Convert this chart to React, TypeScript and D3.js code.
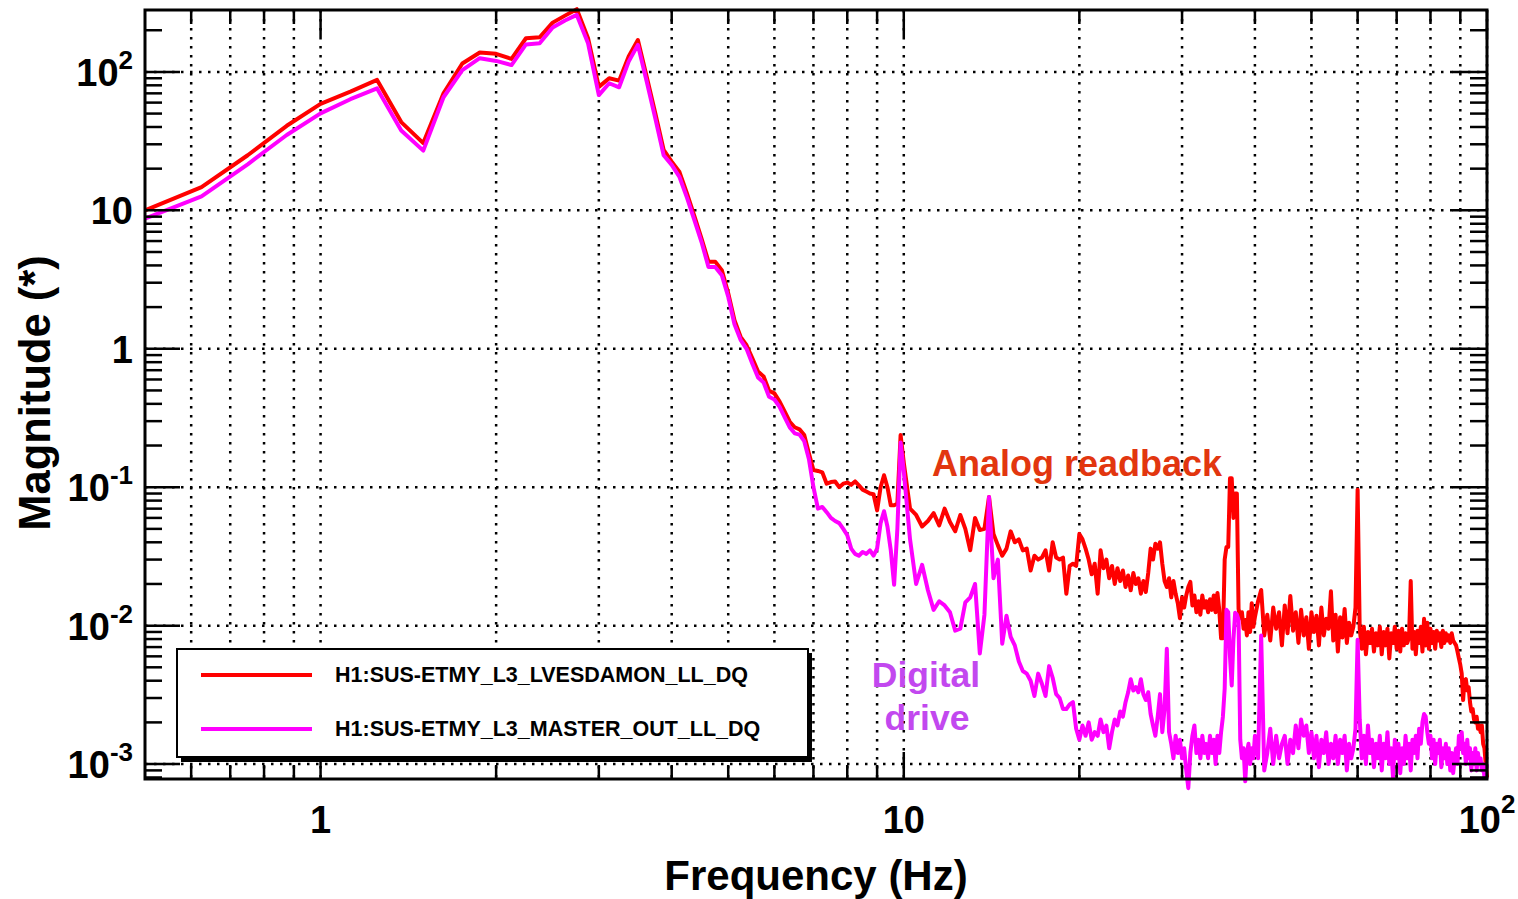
import React from "react";
import * as d3 from "d3";

// ---- Data (magnitude readings, frequency bins in Hz) ----
// Segment 1: 0.5 .. 10 Hz, 0.125 Hz bins
const LOW_START = 0.5;
const LOW_STEP = 0.125;
const analogLow = [
  10, 14.7, 25, 40.8, 58.8, 72, 87.5, 43.4, 30.6, 70,
  115, 138, 135, 124, 175, 178, 227, 255, 284, 175,
  78, 90, 86.5, 129, 170, 92, 50, 27.3, 22.5, 18.9,
  13.2, 9.1, 6.25, 4.26, 4.26, 3.7, 2.52, 1.61, 1.22, 1.06,
  0.853, 0.684, 0.63, 0.497, 0.476, 0.415, 0.351, 0.297, 0.271, 0.262,
  0.238, 0.176, 0.133, 0.131, 0.128, 0.106, 0.109, 0.11, 0.1, 0.106,
  0.108, 0.104, 0.11, 0.103, 0.096, 0.093, 0.09, 0.089, 0.068, 0.1,
  0.122, 0.1, 0.074, 0.074, 0.076, 0.238, 0.15,
];
const digitalLow = [
  8.7, 12.6, 21.5, 35, 50.2, 63.5, 76, 37.7, 27, 65.6,
  103, 125.6, 120, 112, 158, 161, 209, 235, 258, 161,
  68, 82.8, 77.4, 118.7, 156.7, 85, 46, 25, 21.3, 17.4,
  12.3, 8.5, 5.9, 3.9, 3.9, 3.4, 2.38, 1.5, 1.16, 1.0,
  0.78, 0.62, 0.57, 0.45, 0.43, 0.38, 0.32, 0.27, 0.245, 0.24,
  0.215, 0.16, 0.1, 0.07, 0.072, 0.066, 0.06, 0.057, 0.055, 0.05,
  0.045, 0.036, 0.033, 0.032, 0.034, 0.033, 0.035, 0.032, 0.036, 0.055,
  0.067, 0.052, 0.035, 0.0197, 0.05, 0.21, 0.13,
];

// Segment 2: 10.25 .. 20 Hz, 0.25 Hz bins
const MID_START = 10.25;
const MID_STEP = 0.25;
const analogMid = [
  0.07, 0.063, 0.052, 0.057, 0.065, 0.053, 0.07, 0.056, 0.048, 0.063,
  0.05, 0.035, 0.06, 0.049, 0.05, 0.085, 0.046, 0.038, 0.032, 0.036,
  0.048, 0.04, 0.042, 0.035, 0.036, 0.025, 0.032, 0.03, 0.031, 0.035,
  0.025, 0.04, 0.031, 0.03, 0.031, 0.017, 0.027, 0.028, 0.027, 0.046,
];
const digitalMid = [
  0.042, 0.02, 0.0275, 0.018, 0.013, 0.015, 0.014, 0.0125, 0.0092, 0.0095,
  0.0147, 0.016, 0.02, 0.0063, 0.012, 0.085, 0.022, 0.03, 0.0074, 0.0118,
  0.0083, 0.0072, 0.0055, 0.0047, 0.0045, 0.004, 0.0031, 0.0045, 0.0038, 0.0031,
  0.0051, 0.0042, 0.0032, 0.003, 0.0025, 0.0025, 0.0027, 0.0028, 0.0018, 0.0015,
];

// Segment 3: 20.25 .. 40 Hz, 0.25 Hz bins
const HIGH_START = 20.25;
const HIGH_STEP = 0.25;
const analogHigh = [
  0.042, 0.036, 0.03, 0.0235, 0.028, 0.017, 0.035, 0.026,
  0.03, 0.022, 0.027, 0.02, 0.026, 0.021, 0.025, 0.019,
  0.023, 0.018, 0.024, 0.02, 0.022, 0.017, 0.021, 0.0175,
  0.024, 0.036, 0.03, 0.039, 0.036, 0.04, 0.028, 0.021,
  0.019, 0.022, 0.016, 0.021, 0.017, 0.0145, 0.0113, 0.016,
  0.0135, 0.0165, 0.019, 0.0207, 0.014, 0.0165, 0.0125, 0.015,
  0.012, 0.0165, 0.0135, 0.015, 0.0125, 0.0155, 0.013, 0.0165,
  0.0125, 0.0172, 0.013, 0.0081, 0.0081, 0.03, 0.037, 0.037,
  0.116, 0.116, 0.06, 0.09, 0.09, 0.0132, 0.0113, 0.0125,
  0.0095, 0.011, 0.0085, 0.0125, 0.009, 0.0145, 0.0098, 0.0115,
];
const digitalHigh = [
  0.0019, 0.0016, 0.002, 0.0015, 0.0017, 0.0016, 0.0021, 0.0017,
  0.0019, 0.0013, 0.0017, 0.0021, 0.0019, 0.0024, 0.0022, 0.0028,
  0.0033, 0.0041, 0.0034, 0.0036, 0.0033, 0.0041, 0.0032, 0.0029,
  0.0033, 0.0023, 0.0019, 0.0016, 0.0022, 0.0032, 0.0017, 0.0025,
  0.0068, 0.0017, 0.0014, 0.0011, 0.0016, 0.0012, 0.0015, 0.0011,
  0.0013, 0.0009, 0.00067, 0.0012, 0.0016, 0.0019, 0.0012, 0.0015,
  0.0011, 0.0016, 0.0012, 0.0014, 0.0011, 0.0016, 0.0012, 0.0015,
  0.001, 0.0016, 0.0012, 0.0017, 0.0022, 0.0035, 0.013, 0.0125,
  0.006, 0.0037, 0.008, 0.0124, 0.012, 0.011, 0.0015, 0.0011,
  0.0013, 0.00075, 0.0012, 0.0014, 0.001, 0.0013, 0.0011, 0.0016,
];

// Segment 4: 40.5 .. 100 Hz, 0.5 Hz bins
const TOP_START = 40.5;
const TOP_STEP = 0.5;
const analogTop = [
  0.015, 0.0181, 0.0085, 0.012, 0.0078, 0.0135, 0.0095, 0.0125, 0.0072, 0.014,
  0.0088, 0.0164, 0.0092, 0.0125, 0.0075, 0.013, 0.0085, 0.0115, 0.0068, 0.0125,
  0.009, 0.0118, 0.0072, 0.0135, 0.0085, 0.0112, 0.0095, 0.0177, 0.0078, 0.012,
  0.0065, 0.0115, 0.0082, 0.0132, 0.0075, 0.0105, 0.0085, 0.0098, 0.0135, 0.096,
  0.0095, 0.0068, 0.0098, 0.0062, 0.009, 0.0075, 0.0095, 0.0065, 0.0088, 0.0072,
  0.0098, 0.0062, 0.009, 0.0072, 0.0095, 0.0058, 0.0088, 0.0075, 0.0098, 0.0068,
  0.0092, 0.0065, 0.0095, 0.0072, 0.0088, 0.0075, 0.0082, 0.021, 0.0068, 0.009,
  0.0062, 0.0092, 0.0075, 0.0098, 0.0065, 0.0112, 0.0072, 0.0105, 0.0068, 0.0095,
  0.0075, 0.009, 0.0068, 0.0092, 0.0078, 0.0088, 0.007, 0.0092, 0.0075, 0.0088,
  0.0078, 0.0085, 0.0075, 0.0088, 0.0078, 0.0075, 0.0072, 0.0065, 0.0058, 0.0052,
  0.0045, 0.0029, 0.004, 0.0041, 0.0034, 0.0036, 0.0028, 0.0024, 0.0025, 0.0021,
  0.002, 0.0022, 0.0018, 0.0019, 0.0017, 0.0019, 0.0014, 0.0013, 0.001, 0.0008,
];
const digitalTop = [
  0.0011, 0.0085, 0.0009, 0.0012, 0.0018, 0.001, 0.0016, 0.0011, 0.0014, 0.0016,
  0.001, 0.0015, 0.0012, 0.0019, 0.0013, 0.0021, 0.0016, 0.0019, 0.0012, 0.0017,
  0.0011, 0.0016, 0.00095, 0.0015, 0.0012, 0.0017, 0.001, 0.0014, 0.0011, 0.0016,
  0.001, 0.0015, 0.0012, 0.0016, 0.0009, 0.0014, 0.0011, 0.0013, 0.0018, 0.0079,
  0.0021, 0.0011, 0.0016, 0.001, 0.0019, 0.0012, 0.0015, 0.00095, 0.0014, 0.0011,
  0.0016, 0.0009, 0.0014, 0.0011, 0.0017, 0.001, 0.0013, 0.0008, 0.0015, 0.0011,
  0.0014, 0.00086, 0.0013, 0.001, 0.0016, 0.0011, 0.0014, 0.0009, 0.0015, 0.0012,
  0.0016, 0.0011, 0.0018, 0.0014, 0.002, 0.0023, 0.0022, 0.0017, 0.0014, 0.0016,
  0.0011, 0.0015, 0.001, 0.0014, 0.0012, 0.0015, 0.00095, 0.0013, 0.0011, 0.0014,
  0.001, 0.0013, 0.0009, 0.0012, 0.00086, 0.0011, 0.0013, 0.001, 0.0016, 0.0013,
  0.0017, 0.0012, 0.0014, 0.001, 0.0015, 0.0011, 0.0013, 0.0009, 0.0012, 0.001,
  0.0013, 0.0009, 0.0012, 0.001, 0.0011, 0.0009, 0.001, 0.0008, 0.0009, 0.001,
];

const xTickLabels = [
  { v: 1, base: "1", sup: "" },
  { v: 10, base: "10", sup: "" },
  { v: 100, base: "10", sup: "2" },
];
const yTickLabels = [
  { v: 100, base: "10", sup: "2" },
  { v: 10, base: "10", sup: "" },
  { v: 1, base: "1", sup: "" },
  { v: 0.1, base: "10", sup: "-1" },
  { v: 0.01, base: "10", sup: "-2" },
  { v: 0.001, base: "10", sup: "-3" },
];
const seriesNames = ["H1:SUS-ETMY_L3_LVESDAMON_LL_DQ", "H1:SUS-ETMY_L3_MASTER_OUT_LL_DQ"];
const seriesColors = ["#ff0000", "#ff00ff"];

// ---- Helpers ----
function segment(start: number, step: number, values: number[]) {
  return values.map((v, i) => ({ f: start + i * step, v }));
}
const analog = [
  ...segment(LOW_START, LOW_STEP, analogLow),
  ...segment(MID_START, MID_STEP, analogMid),
  ...segment(HIGH_START, HIGH_STEP, analogHigh),
  ...segment(TOP_START, TOP_STEP, analogTop),
];
const digital = [
  ...segment(LOW_START, LOW_STEP, digitalLow),
  ...segment(MID_START, MID_STEP, digitalMid),
  ...segment(HIGH_START, HIGH_STEP, digitalHigh),
  ...segment(TOP_START, TOP_STEP, digitalTop),
];

const FONT = "'Liberation Sans', Arial, Helvetica, sans-serif";

export default function App() {
  const W = 1518;
  const H = 899;
  const L = 145, R = 1487, T = 10, B = 779;
  const x = d3.scaleLog().domain([0.5, 100]).range([L, R]);
  const y = d3.scaleLog().domain([7.8e-4, 280]).range([B, T]);

  const xMajor = [1, 10, 100];
  const xMinor: number[] = [];
  [0.1, 1, 10].forEach((d) => {
    for (let k = 2; k <= 9; k++) {
      const v = k * d;
      if (v > 0.5 + 1e-9 && v < 100) xMinor.push(v);
    }
  });
  const yMajor = [1e-3, 1e-2, 1e-1, 1, 10, 100];
  const yMinor: number[] = [];
  [1e-4, 1e-3, 1e-2, 1e-1, 1, 10, 100].forEach((d) => {
    for (let k = 2; k <= 9; k++) {
      const v = k * d;
      if (v > 7.8e-4 && v < 280) yMinor.push(v);
    }
  });

  const line = d3
    .line<{ f: number; v: number }>()
    .x((d) => x(d.f))
    .y((d) => y(d.v));

  const gridStyle = { stroke: "#000", strokeWidth: 2.5, strokeDasharray: "2.5,6.5" };

  return (
    <svg
      width={W}
      height={H}
      style={{ position: "absolute", left: 0, top: 0, background: "#fff" }}
      fontFamily={FONT}
      fontWeight="bold"
    >
      <rect x={0} y={0} width={W} height={H} fill="#fff" />
      {/* grid */}
      {[...xMajor, ...xMinor].map((v) => (
        <line key={"gx" + v} x1={x(v)} x2={x(v)} y1={T} y2={B} {...gridStyle} />
      ))}
      {yMajor.map((v) => (
        <line key={"gy" + v} x1={L} x2={R} y1={y(v)} y2={y(v)} {...gridStyle} />
      ))}

      {/* data */}
      <path d={line(analog) || ""} fill="none" stroke={seriesColors[0]} strokeWidth={4} strokeLinejoin="round" />
      <path d={line(digital) || ""} fill="none" stroke={seriesColors[1]} strokeWidth={4} strokeLinejoin="round" />

      {/* ticks */}
      {xMajor.map((v) => (
        <g key={"xt" + v}>
          <line x1={x(v)} x2={x(v)} y1={B} y2={B - 27} stroke="#000" strokeWidth={2.5} />
          <line x1={x(v)} x2={x(v)} y1={T} y2={T + 27} stroke="#000" strokeWidth={2.5} />
        </g>
      ))}
      {xMinor.map((v) => (
        <g key={"xm" + v}>
          <line x1={x(v)} x2={x(v)} y1={B} y2={B - 14} stroke="#000" strokeWidth={2.5} />
          <line x1={x(v)} x2={x(v)} y1={T} y2={T + 14} stroke="#000" strokeWidth={2.5} />
        </g>
      ))}
      {yMajor.map((v) => (
        <g key={"yt" + v}>
          <line x1={L} x2={L + 35} y1={y(v)} y2={y(v)} stroke="#000" strokeWidth={2.5} />
          <line x1={R} x2={R - 35} y1={y(v)} y2={y(v)} stroke="#000" strokeWidth={2.5} />
        </g>
      ))}
      {yMinor.map((v) => (
        <g key={"ym" + v}>
          <line x1={L} x2={L + 17} y1={y(v)} y2={y(v)} stroke="#000" strokeWidth={2.5} />
          <line x1={R} x2={R - 17} y1={y(v)} y2={y(v)} stroke="#000" strokeWidth={2.5} />
        </g>
      ))}
      <rect x={L} y={T} width={R - L} height={B - T} fill="none" stroke="#000" strokeWidth={3} />

      {/* tick labels */}
      {xTickLabels.map((t) => (
        <text key={"xl" + t.v} x={x(t.v)} y={833} textAnchor="middle" fontSize={38}>
          <tspan>{t.base}</tspan>
          {t.sup && (
            <tspan dy={-20} fontSize={26}>
              {t.sup}
            </tspan>
          )}
        </text>
      ))}
      {yTickLabels.map((t) => (
        <text key={"yl" + t.v} x={133} y={y(t.v) + 14} textAnchor="end" fontSize={38}>
          <tspan>{t.base}</tspan>
          {t.sup && (
            <tspan dy={-17} fontSize={26}>
              {t.sup}
            </tspan>
          )}
        </text>
      ))}

      {/* axis titles */}
      <text x={816} y={890} textAnchor="middle" fontSize={42}>
        Frequency (Hz)
      </text>
      <text transform="translate(50,393) rotate(-90)" textAnchor="middle" fontSize={43.5}>
        Magnitude (*)
      </text>

      {/* legend */}
      <rect x={181} y={653} width={631} height={109} fill="#000" />
      <rect x={177} y={649} width={631} height={108} fill="#fff" stroke="#000" strokeWidth={2} />
      {seriesNames.map((n, i) => (
        <g key={n}>
          <line x1={201} x2={312} y1={675 + i * 54} y2={675 + i * 54} stroke={seriesColors[i]} strokeWidth={4} />
          <text x={335} y={682 + i * 54} fontSize={21.5}>
            {n}
          </text>
        </g>
      ))}

      {/* annotations */}
      <text x={932} y={476} fontSize={36} fill="#e2360f">
        Analog readback
      </text>
      <text x={926} y={687} fontSize={35.5} fill="#c248ef" textAnchor="middle">
        Digital
      </text>
      <text x={927} y={730} fontSize={35.5} fill="#c248ef" textAnchor="middle">
        drive
      </text>
    </svg>
  );
}
